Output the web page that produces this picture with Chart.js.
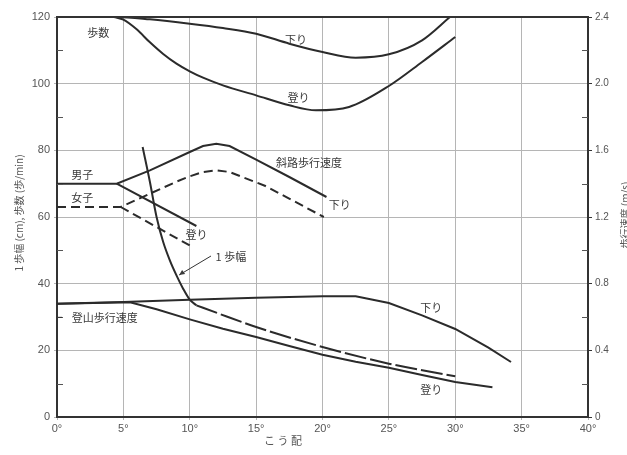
<!DOCTYPE html>
<html>
<head>
<meta charset="utf-8">
<script src="https://cdn.jsdelivr.net/npm/chart.js@4/dist/chart.umd.min.js"></script>
<style>
  body { margin: 0; background: #fff; }
</style>
</head>
<body>
<canvas id="chart" width="627" height="455"></canvas>
<script>
// slope in degrees (x) vs. value on left axis (cm, steps/min); right axis = left / 50 (m/s)
const stepsDownX = [0, 4.5, 7, 10, 12.5, 15, 17.5, 20, 22.5, 25, 27.5, 29.6];
const stepsDownY = [120, 120, 119.3, 118, 116.7, 115, 112, 109.5, 107.8, 108.8, 113, 120];
const stepsUpX = [4.3, 5, 6, 7, 8, 9, 10, 11, 12.5, 15, 17.5, 19.5, 22, 25, 27.5, 30];
const stepsUpY = [120, 119.2, 116.3, 112.4, 108.9, 106, 103.7, 101.8, 99.5, 96.5, 93.5, 92, 93, 99.3, 106.5, 114];

const rampMaleDownX = [0, 4.5, 7, 10, 11, 12, 13, 15, 17.5, 20.3];
const rampMaleDownY = [70, 70, 74, 79.5, 81.3, 82, 81.3, 77.2, 72, 66];
const rampFemaleDownX = [0, 4.8, 7, 9, 10, 11, 12, 13, 15.7, 20.1];
const rampFemaleDownY = [63, 63, 67, 70.6, 72.2, 73.5, 74, 73.5, 69.3, 60];
const rampMaleUpX = [4.5, 10.5];
const rampMaleUpY = [70, 57.3];
const rampFemaleUpX = [4.8, 10.2];
const rampFemaleUpY = [63, 51];

const strideX = [6.45, 7, 7.5, 8, 8.5, 9, 9.5, 10, 10.5];
const strideY = [81, 70.5, 60, 52.5, 47, 42.5, 38.5, 35.2, 33.5];
const strideTailX = [10.5, 12, 15, 20, 25, 30];
const strideTailY = [33.5, 31.3, 27, 21, 16, 12.2];

const hikeDownX = [0, 5, 10, 15, 20, 22.5, 25, 27.5, 30, 32.5, 34.2];
const hikeDownY = [34, 34.5, 35.2, 35.8, 36.2, 36.2, 34.2, 30.5, 26.4, 20.8, 16.5];
const hikeUpX = [0, 5.5, 7.5, 10, 12.5, 15, 17.5, 20, 22.5, 25, 27.5, 30, 32.8];
const hikeUpY = [34, 34.4, 32.3, 29.3, 26.5, 24, 21.3, 18.7, 16.6, 14.8, 12.6, 10.5, 8.9];

const xTicks = [0, 5, 10, 15, 20, 25, 30, 35, 40];
const leftTicks = [0, 20, 40, 60, 80, 100, 120];
const rightTicks = [0, 0.4, 0.8, 1.2, 1.6, 2.0, 2.4];

// labels written on the chart (x in degrees, y in left-axis units)
const notes = [
  { t: '歩数', x: 3.1, y: 115.2 },
  { t: '下り', x: 18.0, y: 113.3 },
  { t: '登り', x: 18.2, y: 95.7 },
  { t: '斜路歩行速度', x: 16.5, y: 76.4, align: 'left' },
  { t: '下り', x: 21.3, y: 63.7 },
  { t: '男子', x: 1.9, y: 72.7 },
  { t: '女子', x: 1.9, y: 65.8 },
  { t: '登り', x: 10.5, y: 54.6 },
  { t: '1 歩幅', x: 13.1, y: 48.1 },
  { t: '登山歩行速度', x: 3.6, y: 29.9 },
  { t: '下り', x: 28.2, y: 32.9 },
  { t: '登り', x: 28.2, y: 8.3 }
];

const ink = '#2b2b2b';
const pts = (xs, ys) => xs.map((x, i) => ({ x: x, y: ys[i] }));
const line = (xs, ys, dash, smooth) => ({
  data: pts(xs, ys),
  borderColor: ink,
  borderWidth: 2,
  borderDash: dash || [],
  pointRadius: 0,
  fill: false,
  tension: smooth ? 0.4 : 0,
  cubicInterpolationMode: smooth ? 'monotone' : 'default'
});

const extras = {
  id: 'extras',
  afterDatasetsDraw(chart) {
    const c = chart.ctx, x = chart.scales.x, y = chart.scales.y, a = chart.chartArea;
    c.save();
    // top frame line
    c.strokeStyle = '#333';
    c.lineWidth = 2;
    c.beginPath(); c.moveTo(a.left, a.top); c.lineTo(a.right, a.top); c.stroke();
    // minor ticks inside the frame
    c.strokeStyle = '#555';
    c.lineWidth = 1;
    for (let v = 10; v < 120; v += 20) {
      const py = Math.round(y.getPixelForValue(v)) + 0.5;
      c.beginPath(); c.moveTo(a.left, py); c.lineTo(a.left + 6, py); c.stroke();
      c.beginPath(); c.moveTo(a.right - 6, py); c.lineTo(a.right, py); c.stroke();
    }
    // notes
    c.fillStyle = '#3a3a3a';
    c.font = '11px "Noto Sans CJK JP"';
    c.textBaseline = 'middle';
    notes.forEach(n => {
      c.textAlign = n.align || 'center';
      c.fillText(n.t, x.getPixelForValue(n.x), y.getPixelForValue(n.y));
    });
    // leader for 1 歩幅
    c.strokeStyle = '#333';
    const x0 = x.getPixelForValue(11.6), y0 = y.getPixelForValue(48.3);
    const x1 = x.getPixelForValue(9.2), y1 = y.getPixelForValue(42.6);
    c.beginPath(); c.moveTo(x0, y0); c.lineTo(x1, y1); c.stroke();
    c.beginPath(); c.moveTo(x1, y1); c.lineTo(x1 + 6, y1 - 1); c.lineTo(x1 + 3, y1 - 5); c.closePath(); c.fill();
    // leader for 登山歩行速度
    const ly = y.getPixelForValue(29.9);
    c.beginPath(); c.moveTo(a.left, ly); c.lineTo(a.left + 5, ly); c.stroke();
    // axis titles
    c.fillStyle = '#555';
    c.font = '10px "Noto Sans CJK JP"';
    c.textAlign = 'center';
    c.save();
    c.translate(19, 213); c.rotate(-Math.PI / 2);
    c.fillText('1 歩幅 (cm), 歩数 (歩/min)', 0, 0);
    c.restore();
    c.save();
    c.translate(625, 215); c.rotate(-Math.PI / 2);
    c.fillText('歩行速度 (m/s)', 0, 0);
    c.restore();
    c.font = '11px "Noto Sans CJK JP"';
    c.fillText('こ う 配', 283, 441);
    c.restore();
  }
};

new Chart(document.getElementById('chart'), {
  type: 'line',
  data: {
    datasets: [
      line(stepsDownX, stepsDownY, null, true),
      line(stepsUpX, stepsUpY, null, true),
      line(rampMaleDownX, rampMaleDownY, null, false),
      line(rampFemaleDownX, rampFemaleDownY, [9, 5], false),
      line(rampMaleUpX, rampMaleUpY, null, false),
      line(rampFemaleUpX, rampFemaleUpY, [9, 5], false),
      line(strideX, strideY, null, true),
      line(strideTailX, strideTailY, [22, 4], true),
      line(hikeDownX, hikeDownY, null, false),
      line(hikeUpX, hikeUpY, null, false)
    ]
  },
  options: {
    responsive: false,
    animation: false,
    layout: { padding: { top: 17 } },
    plugins: { legend: { display: false }, tooltip: { enabled: false } },
    scales: {
      x: {
        type: 'linear', min: 0, max: 40,
        afterBuildTicks: s => { s.ticks = xTicks.map(v => ({ value: v })); },
        afterFit: s => { s.height = 38; },
        ticks: { color: '#555', font: { size: 11 }, padding: 2, callback: v => v + '°' },
        grid: { color: '#b5b5b5', lineWidth: 1, tickLength: 3 },
        border: { color: '#333', width: 2 }
      },
      y: {
        min: 0, max: 120,
        afterBuildTicks: s => { s.ticks = leftTicks.map(v => ({ value: v })); },
        afterFit: s => { s.width = 57; },
        ticks: { color: '#555', font: { size: 11 }, padding: 4 },
        grid: { color: '#b5b5b5', lineWidth: 1, tickLength: 3 },
        border: { color: '#333', width: 2 }
      },
      y1: {
        position: 'right', min: 0, max: 2.4,
        afterBuildTicks: s => { s.ticks = rightTicks.map(v => ({ value: v })); },
        afterFit: s => { s.width = 39; },
        ticks: { color: '#555', font: { size: 10 }, padding: 3, callback: v => v === 0 ? '0' : v.toFixed(1) },
        grid: { drawOnChartArea: false, tickLength: 4, color: '#333' },
        border: { color: '#333', width: 2 }
      }
    }
  },
  plugins: [extras]
});
</script>
</body>
</html>
